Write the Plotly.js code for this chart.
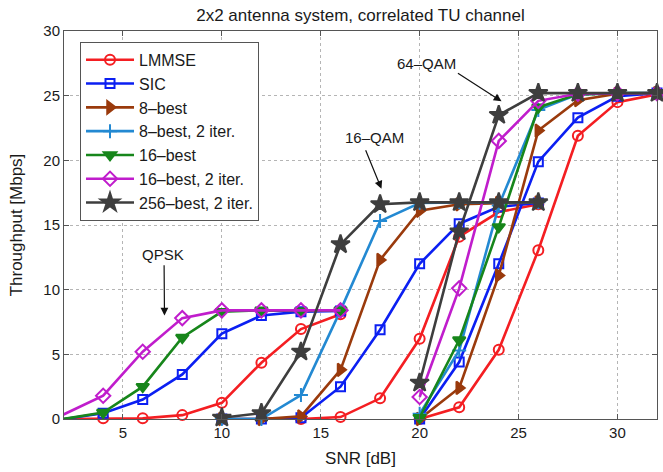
<!DOCTYPE html>
<html>
<head>
<meta charset="utf-8">
<script src="https://cdn.plot.ly/plotly-3.0.1.min.js"></script>
<style>
  html, body { margin: 0; padding: 0; background: #ffffff; }
  #chart { width: 663px; height: 472px; }
</style>
</head>
<body>
<div id="chart"></div>
<script>
// SNR grids (dB) for each modulation order
const snrQpsk = [2, 4, 6, 8, 10, 12, 14, 16];
const snr16qam = [10, 12, 14, 16, 18, 20, 22, 24, 26];
const snr64qam = [20, 22, 24, 26, 28, 30, 32];

// Throughput [Mbps] per detector, split by modulation (null = not simulated)
const lmmseQpsk = [0, 0.05, 0.05, 0.3, 1.25, 4.35, 6.95, 8.1];
const lmmse16qam = [null, null, 0, 0.15, 1.6, 6.2, 14.1, 16.0, 16.6];
const lmmse64qam = [0, 0.9, 5.35, 13.05, 21.9, 24.5, 25.1];

const sicQpsk = [0, 0.45, 1.5, 3.45, 6.6, 8.0, 8.3, 8.35];
const sic16qam = [0, 0, 0.1, 2.5, 6.9, 12.0, 15.1, 16.4, 16.7];
const sic64qam = [0, 4.4, 12.0, 19.9, 23.3, 24.95, 25.2];

const best8Qpsk = [null, null, null, null, null, null, null, null];
const best8_16qam = [0, 0, 0.2, 3.8, 12.3, 16.1, 16.6, 16.7, 16.75];
const best8_64qam = [0, 2.4, 11.1, 22.3, 24.65, 25.15, 25.2];

const best8IterQpsk = [null, null, null, null, null, null, null, null];
const best8Iter16qam = [0, 0, 1.85, 8.4, 15.3, 16.7, 16.75, 16.75, 16.75];
const best8Iter64qam = [0.4, 5.3, 16.5, 23.9, 25.1, 25.2, 25.2];

const best16Qpsk = [0, 0.5, 2.5, 6.3, 8.3, 8.4, 8.35, 8.4];
const best16_16qam = [null, null, null, null, null, null, null, null, null];
const best16_64qam = [0.1, 6.1, 14.85, 24.1, 25.1, 25.2, 25.2];

const best16IterQpsk = [0.35, 1.8, 5.2, 7.8, 8.4, 8.4, 8.4, 8.4];
const best16Iter16qam = [null, null, null, null, null, null, null, null, null];
const best16Iter64qam = [1.7, 10.1, 21.5, 24.6, 25.15, 25.2, 25.2];

const best256IterQpsk = [null, null, null, null, null, null, null, null];
const best256Iter16qam = [0.1, 0.45, 5.2, 13.5, 16.6, 16.75, 16.75, 16.75, 16.75];
const best256Iter64qam = [2.8, 14.5, 23.5, 25.2, 25.2, 25.2, 25.2];

const seriesNames = ['LMMSE', 'SIC', '8\u2013best', '8\u2013best, 2 iter.', '16\u2013best',
                     '16\u2013best, 2 iter.', '256\u2013best, 2 iter.'];

// Join the three modulation segments into one polyline, broken by gaps
function joinSegments(q, m16, m64) {
  const x = [], y = [];
  [[snrQpsk, q], [snr16qam, m16], [snr64qam, m64]].forEach(([sx, sy], k) => {
    if (k > 0) { x.push(null); y.push(null); }
    sx.forEach((v, i) => { x.push(v); y.push(sy[i]); });
  });
  return { x, y };
}

const styles = [
  { color: '#f41e22', symbol: 'circle-open', size: 10 },
  { color: '#0b1ff2', symbol: 'square-open', size: 9 },
  { color: '#9a3a0c', symbol: 'triangle-right', size: 11 },
  { color: '#2389d2', symbol: 'cross-thin-open', size: 10 },
  { color: '#17861b', symbol: 'triangle-down', size: 11 },
  { color: '#c01dcc', symbol: 'diamond-open', size: 11 },
  { color: '#3e3e3e', symbol: 'star', size: 14 }
];

const data = [
  [lmmseQpsk, lmmse16qam, lmmse64qam],
  [sicQpsk, sic16qam, sic64qam],
  [best8Qpsk, best8_16qam, best8_64qam],
  [best8IterQpsk, best8Iter16qam, best8Iter64qam],
  [best16Qpsk, best16_16qam, best16_64qam],
  [best16IterQpsk, best16Iter16qam, best16Iter64qam],
  [best256IterQpsk, best256Iter16qam, best256Iter64qam]
];

const traces = data.map((segs, i) => {
  const pts = joinSegments(segs[0], segs[1], segs[2]);
  const st = styles[i];
  return {
    type: 'scatter',
    mode: 'lines+markers',
    name: seriesNames[i],
    x: pts.x,
    y: pts.y,
    connectgaps: false,
    cliponaxis: false,
    line: { color: st.color, width: 2.6 },
    marker: {
      symbol: st.symbol,
      size: st.size,
      color: st.color,
      line: { color: st.color, width: 2 }
    }
  };
});

const fontFamily = 'Liberation Sans, Arial, sans-serif';
const tickFont = { family: fontFamily, size: 15, color: '#1a1a1a' };
const arrowStyle = { arrowhead: 2, arrowsize: 1.3, arrowwidth: 1.2, arrowcolor: '#111111',
                     axref: 'x', ayref: 'y', text: '', showarrow: true, standoff: 0 };
const labelFont = { family: fontFamily, size: 15, color: '#1a1a1a' };

const layout = {
  width: 663,
  height: 472,
  margin: { l: 64, r: 6, t: 31, b: 53 },
  paper_bgcolor: '#ffffff',
  plot_bgcolor: '#ffffff',
  showlegend: true,
  title: {
    text: '2x2 antenna system, correlated TU channel',
    font: { family: fontFamily, size: 17, color: '#1a1a1a' },
    xref: 'paper', x: 0.5, xanchor: 'center',
    yref: 'container', y: 0.969, yanchor: 'middle'
  },
  xaxis: {
    range: [2.02, 32],
    tickvals: [5, 10, 15, 20, 25, 30],
    ticks: 'inside', ticklen: 5, tickcolor: '#555555',
    showline: true, linecolor: '#555555', linewidth: 1, mirror: 'ticks',
    showgrid: true, gridcolor: '#b5b5b5', griddash: 'dot', gridwidth: 1,
    zeroline: false,
    tickfont: tickFont,
    title: { text: 'SNR [dB]', font: { family: fontFamily, size: 17, color: '#1a1a1a' }, standoff: 12 }
  },
  yaxis: {
    range: [0, 30],
    tickvals: [0, 5, 10, 15, 20, 25, 30],
    ticks: 'inside', ticklen: 5, tickcolor: '#555555',
    showline: true, linecolor: '#555555', linewidth: 1, mirror: 'ticks',
    showgrid: true, gridcolor: '#b5b5b5', griddash: 'dot', gridwidth: 1,
    zeroline: false,
    tickfont: tickFont,
    title: { text: 'Throughput [Mbps]', font: { family: fontFamily, size: 17, color: '#1a1a1a' }, standoff: 16 }
  },
  legend: {
    x: 0.027, y: 0.972, xanchor: 'left', yanchor: 'top',
    bgcolor: '#ffffff', bordercolor: '#555555', borderwidth: 1,
    font: { family: fontFamily, size: 16, color: '#1a1a1a' },
    itemwidth: 48,
    tracegroupgap: 0
  },
  annotations: [
    { x: 7.05, y: 12.75, text: 'QPSK', showarrow: false, font: labelFont },
    Object.assign({ x: 7.1, y: 8.0, ax: 7.08, ay: 12.0 }, arrowStyle),
    { x: 17.72, y: 21.8, text: '16\u2013QAM', showarrow: false, font: labelFont },
    Object.assign({ x: 18.07, y: 17.8, ax: 17.24, ay: 20.9 }, arrowStyle),
    { x: 20.37, y: 27.45, text: '64\u2013QAM', showarrow: false, font: labelFont },
    Object.assign({ x: 24.14, y: 24.57, ax: 21.86, ay: 26.8 }, arrowStyle)
  ]
};

Plotly.newPlot('chart', traces, layout, { displayModeBar: false, staticPlot: true });
</script>
</body>
</html>
